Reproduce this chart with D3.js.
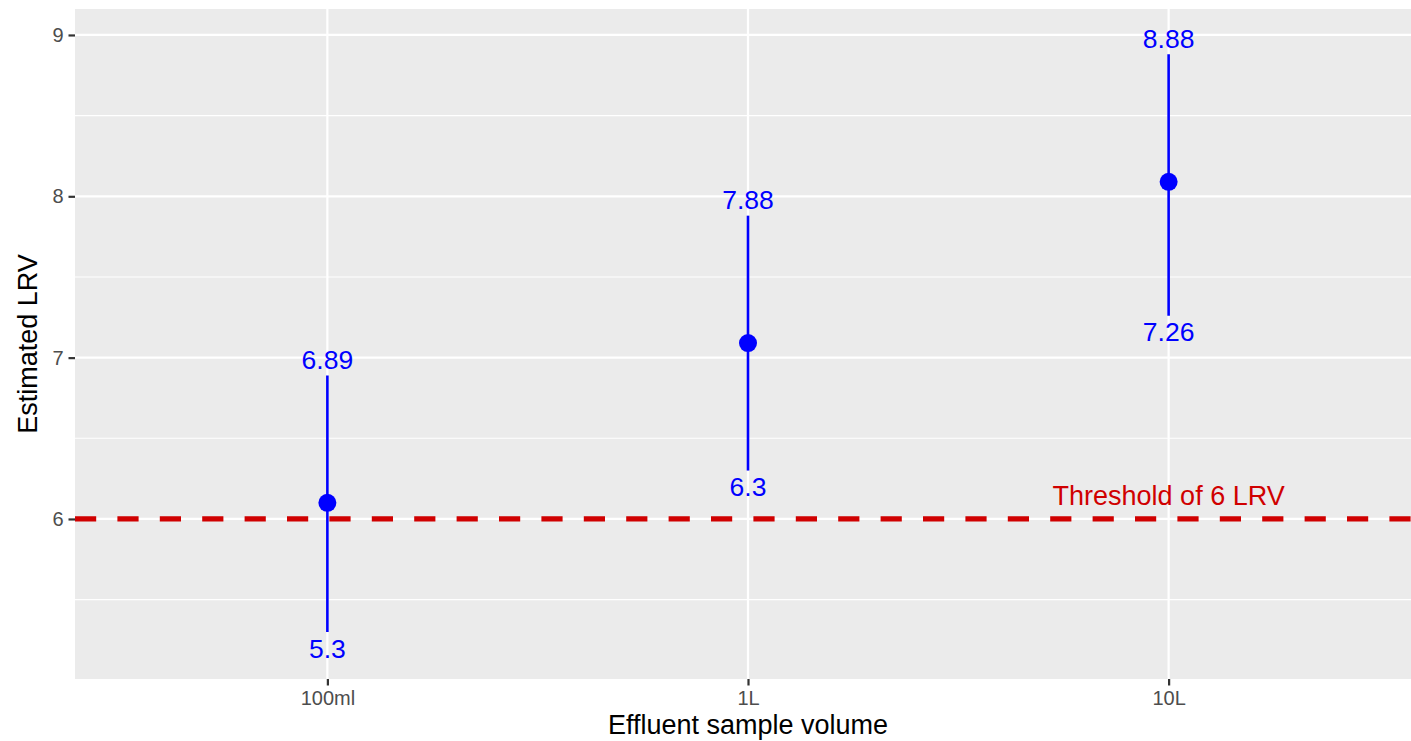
<!DOCTYPE html>
<html>
<head>
<meta charset="utf-8">
<script src="https://cdn.jsdelivr.net/npm/d3@7"></script>
<style>
  html, body { margin: 0; padding: 0; background: #fff; }
  svg { display: block; font-family: "Liberation Sans", Arial, sans-serif; }
</style>
</head>
<body>
<svg id="chart" width="1411" height="741"></svg>
<script>
// ---- data ----
const categories = ["100ml", "1L", "10L"];
const estimates  = [6.1, 7.09, 8.09];
const lowerCI    = [5.3, 6.3, 7.26];
const upperCI    = [6.89, 7.88, 8.88];
const lowerLabels = ["5.3", "6.3", "7.26"];
const upperLabels = ["6.89", "7.88", "8.88"];
const yTicks = [6, 7, 8, 9];
const yMinorTicks = [5.5, 6.5, 7.5, 8.5];
const threshold = 6;
const thresholdLabel = "Threshold of 6 LRV";
const xTitle = "Effluent sample volume";
const yTitle = "Estimated LRV";

// ---- layout ----
const panel = { left: 75, right: 1421, top: 9, bottom: 679 };
const svg = d3.select("#chart");

const x = d3.scalePoint().domain(categories).range([panel.left, panel.right]).padding(0.6);
const y = d3.scaleLinear().domain([5.008, 9.161]).range([panel.bottom, panel.top]);

// panel background
svg.append("rect")
  .attr("x", panel.left).attr("y", panel.top)
  .attr("width", panel.right - panel.left).attr("height", panel.bottom - panel.top)
  .attr("fill", "#EBEBEB");

// minor grid
svg.append("g").selectAll("line").data(yMinorTicks).join("line")
  .attr("x1", panel.left).attr("x2", panel.right)
  .attr("y1", d => y(d)).attr("y2", d => y(d))
  .attr("stroke", "#fff").attr("stroke-width", 1.1);

// major grid
svg.append("g").selectAll("line").data(yTicks).join("line")
  .attr("x1", panel.left).attr("x2", panel.right)
  .attr("y1", d => y(d)).attr("y2", d => y(d))
  .attr("stroke", "#fff").attr("stroke-width", 2.2);
svg.append("g").selectAll("line").data(categories).join("line")
  .attr("x1", d => x(d)).attr("x2", d => x(d))
  .attr("y1", panel.top).attr("y2", panel.bottom)
  .attr("stroke", "#fff").attr("stroke-width", 2.2);

// threshold line
svg.append("line")
  .attr("x1", panel.left).attr("x2", panel.right)
  .attr("y1", y(threshold)).attr("y2", y(threshold))
  .attr("stroke", "#D00000").attr("stroke-width", 5.3)
  .attr("stroke-dasharray", "21.2 21.2");

svg.append("text")
  .attr("x", x("10L")).attr("y", y(threshold) - 14)
  .attr("text-anchor", "middle")
  .attr("font-size", 27).attr("fill", "#D00000")
  .text(thresholdLabel);

// error bars
const rows = categories.map((c, i) => ({ c, est: estimates[i], lo: lowerCI[i], hi: upperCI[i], loL: lowerLabels[i], hiL: upperLabels[i] }));

svg.append("g").selectAll("line").data(rows).join("line")
  .attr("x1", d => x(d.c)).attr("x2", d => x(d.c))
  .attr("y1", d => y(d.lo)).attr("y2", d => y(d.hi))
  .attr("stroke", "#0000FF").attr("stroke-width", 2.6);

svg.append("g").selectAll("circle").data(rows).join("circle")
  .attr("cx", d => x(d.c)).attr("cy", d => y(d.est))
  .attr("r", 9).attr("fill", "#0000FF");

// labels
const labelSize = 26.5;
svg.append("g").selectAll("text").data(rows).join("text")
  .attr("x", d => x(d.c)).attr("y", d => y(d.hi + 0.1) + 0.358 * labelSize)
  .attr("text-anchor", "middle").attr("font-size", labelSize).attr("fill", "#0000FF")
  .text(d => d.hiL);
svg.append("g").selectAll("text").data(rows).join("text")
  .attr("x", d => x(d.c)).attr("y", d => y(d.lo - 0.1) + 0.358 * labelSize)
  .attr("text-anchor", "middle").attr("font-size", labelSize).attr("fill", "#0000FF")
  .text(d => d.loL);

// axes
const yAxis = d3.axisLeft(y).tickValues(yTicks).tickFormat(d3.format("d")).tickSize(6.5).tickPadding(5);
const gy = svg.append("g").attr("transform", `translate(${panel.left},0)`).call(yAxis);
gy.select(".domain").remove();
gy.selectAll(".tick line").attr("stroke", "#333333").attr("stroke-width", 2.2);
gy.selectAll(".tick text").attr("fill", "#4D4D4D").attr("font-size", 20)
  .attr("font-family", "Liberation Sans, Arial, sans-serif");

const xAxis = d3.axisBottom(x).tickSize(6.5).tickPadding(5);
const gx = svg.append("g").attr("transform", `translate(0,${panel.bottom})`).call(xAxis);
gx.select(".domain").remove();
gx.selectAll(".tick line").attr("stroke", "#333333").attr("stroke-width", 2.2);
gx.selectAll(".tick text").attr("fill", "#4D4D4D").attr("font-size", 20)
  .attr("font-family", "Liberation Sans, Arial, sans-serif");

// titles
svg.append("text")
  .attr("x", (panel.left + panel.right) / 2).attr("y", 734)
  .attr("text-anchor", "middle").attr("font-size", 27).attr("fill", "#000")
  .text(xTitle);

svg.append("text")
  .attr("transform", `translate(37,${(panel.top + panel.bottom) / 2}) rotate(-90)`)
  .attr("text-anchor", "middle").attr("font-size", 27).attr("fill", "#000")
  .text(yTitle);
</script>
</body>
</html>
